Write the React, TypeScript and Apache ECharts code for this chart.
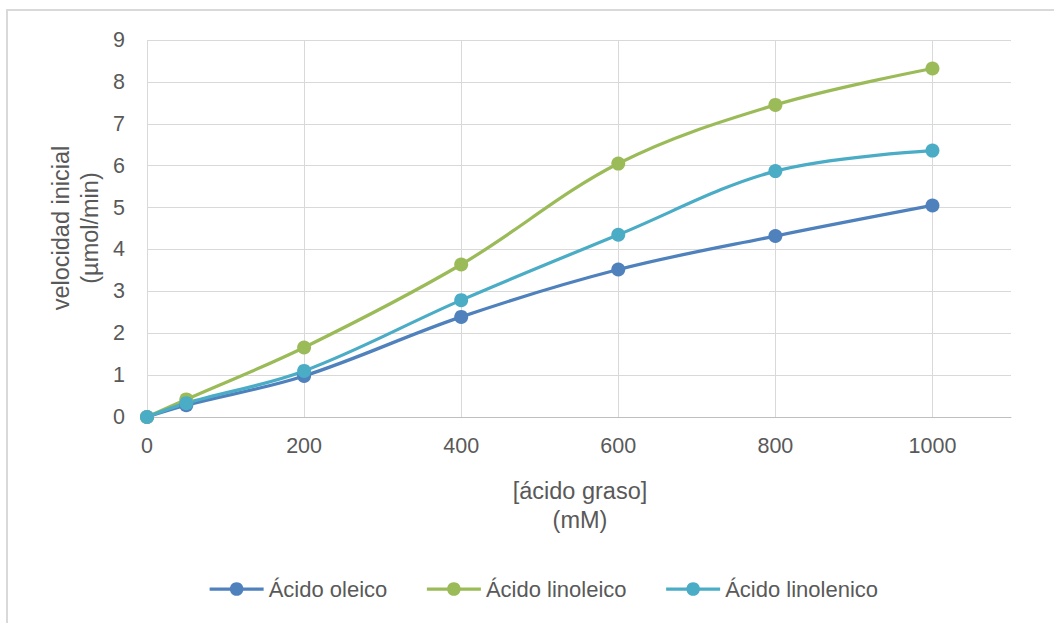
import React, { useEffect, useRef } from "react";
import * as echarts from "echarts";

// Concentración de ácido graso (mM)
const concentracion = [0, 50, 200, 400, 600, 800, 1000];
// Velocidad inicial (µmol/min) por ácido graso
const oleico = [0, 0.28, 0.98, 2.39, 3.52, 4.32, 5.05];
const linoleico = [0, 0.42, 1.66, 3.64, 6.05, 7.45, 8.32];
const linolenico = [0, 0.33, 1.1, 2.79, 4.35, 5.87, 6.36];

const nombres = ["Ácido oleico", "Ácido linoleico", "Ácido linolenico"];
const colores = ["#4F81BD", "#9BBB59", "#4BACC6"];

const FONT = "'Liberation Sans', 'Open Sans', sans-serif";
const TEXT = "#595959";

export default function App() {
  const ref = useRef<HTMLDivElement>(null);

  useEffect(() => {
    if (!ref.current) return;
    const chart = echarts.init(ref.current, undefined, { renderer: "svg" });
    const valores = [oleico, linoleico, linolenico];

    chart.setOption({
      animation: false,
      backgroundColor: "#ffffff",
      textStyle: { fontFamily: FONT, color: TEXT },
      grid: { left: 147, right: 43, top: 40, bottom: 206 },
      xAxis: {
        type: "value",
        min: 0,
        max: 1100,
        interval: 200,
        axisLine: { show: true, lineStyle: { color: "#BFBFBF", width: 1 } },
        axisTick: { show: false },
        axisLabel: {
          showMaxLabel: false,
          margin: 18,
          fontSize: 21.5,
          color: TEXT,
          fontFamily: FONT,
          formatter: (v: number) => String(v),
        },
        splitLine: {
          show: true,
          showMinLine: true,
          showMaxLine: false,
          lineStyle: { color: "#D9D9D9", width: 1 },
        },
      },
      yAxis: {
        type: "value",
        min: 0,
        max: 9,
        interval: 1,
        axisLine: { show: false },
        axisTick: { show: false },
        axisLabel: { margin: 22, fontSize: 21.5, color: TEXT, fontFamily: FONT },
        splitLine: { show: true, lineStyle: { color: "#D9D9D9", width: 1 } },
      },
      legend: {
        top: 573,
        left: 203,
        itemWidth: 54,
        itemHeight: 17,
        itemGap: 38,
        lineStyle: { width: 3.25 },
        textStyle: { fontSize: 22, color: TEXT, fontFamily: FONT },
        data: nombres,
      },
      graphic: [
        {
          type: "rect",
          silent: true,
          shape: { x: 7, y: 10, width: 1100, height: 700 },
          style: { fill: "none", stroke: "#D9D9D9", lineWidth: 2 },
        },
        {
          type: "text",
          x: 75,
          y: 228,
          rotation: Math.PI / 2,
          style: {
            text: "velocidad inicial\n(µmol/min)",
            fontSize: 23.5,
            lineHeight: 29,
            fontFamily: FONT,
            fill: TEXT,
            align: "center",
            verticalAlign: "middle",
          },
        },
        {
          type: "text",
          x: 580,
          y: 505,
          style: {
            text: "[ácido graso]\n(mM)",
            fontSize: 23.5,
            lineHeight: 29,
            fontFamily: FONT,
            fill: TEXT,
            align: "center",
            verticalAlign: "middle",
          },
        },
      ],
      series: nombres.map((n, i) => ({
        name: n,
        type: "line",
        smooth: 0.35,
        data: concentracion.map((x, j) => [x, valores[i][j]]),
        symbol: "circle",
        symbolSize: 14,
        lineStyle: { color: colores[i], width: 3.25 },
        itemStyle: { color: colores[i] },
      })),
    });

    return () => chart.dispose();
  }, []);

  return (
    <div
      ref={ref}
      style={{ position: "fixed", left: 0, top: 0, width: 1054, height: 623 }}
    />
  );
}
